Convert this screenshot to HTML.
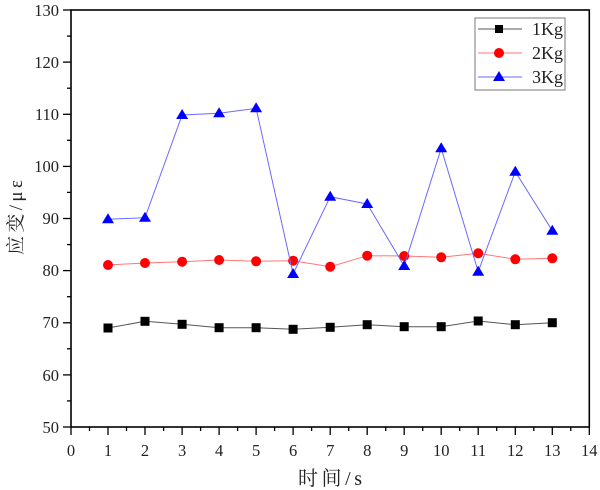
<!DOCTYPE html>
<html><head><meta charset="utf-8"><style>
html,body{margin:0;padding:0;background:#fff;}
svg{display:block;}
text{font-family:"Liberation Serif","Noto Serif CJK SC",serif;fill:#222;}
</style></head><body>
<svg width="600" height="490" viewBox="0 0 600 490" xmlns="http://www.w3.org/2000/svg">
<rect width="600" height="490" fill="#fff"/>
<!-- frame -->
<rect x="71" y="10" width="518.3" height="417" fill="none" stroke="#000" stroke-width="1.6"/>
<!-- y ticks -->
<g stroke="#000" stroke-width="1.3">
<line x1="63" y1="10" x2="71" y2="10"/><line x1="67" y1="36.1" x2="71" y2="36.1"/>
<line x1="63" y1="62.1" x2="71" y2="62.1"/><line x1="67" y1="88.2" x2="71" y2="88.2"/>
<line x1="63" y1="114.3" x2="71" y2="114.3"/><line x1="67" y1="140.3" x2="71" y2="140.3"/>
<line x1="63" y1="166.4" x2="71" y2="166.4"/><line x1="67" y1="192.4" x2="71" y2="192.4"/>
<line x1="63" y1="218.5" x2="71" y2="218.5"/><line x1="67" y1="244.6" x2="71" y2="244.6"/>
<line x1="63" y1="270.6" x2="71" y2="270.6"/><line x1="67" y1="296.7" x2="71" y2="296.7"/>
<line x1="63" y1="322.8" x2="71" y2="322.8"/><line x1="67" y1="348.8" x2="71" y2="348.8"/>
<line x1="63" y1="374.9" x2="71" y2="374.9"/><line x1="67" y1="400.9" x2="71" y2="400.9"/>
<line x1="63" y1="427" x2="71" y2="427"/>
</g>
<g font-size="16.5" text-anchor="end">
<text x="59" y="16">130</text><text x="59" y="68">120</text><text x="59" y="120">110</text>
<text x="59" y="172">100</text><text x="59" y="224">90</text><text x="59" y="276">80</text>
<text x="59" y="328">70</text><text x="59" y="381">60</text><text x="59" y="433">50</text>
</g>
<!-- x ticks -->
<g stroke="#000" stroke-width="1.3">
<line x1="71" y1="427" x2="71" y2="435"/><line x1="89.5" y1="427" x2="89.5" y2="431"/>
<line x1="108" y1="427" x2="108" y2="435"/><line x1="126.5" y1="427" x2="126.5" y2="431"/>
<line x1="145" y1="427" x2="145" y2="435"/><line x1="163.6" y1="427" x2="163.6" y2="431"/>
<line x1="182.1" y1="427" x2="182.1" y2="435"/><line x1="200.6" y1="427" x2="200.6" y2="431"/>
<line x1="219.1" y1="427" x2="219.1" y2="435"/><line x1="237.6" y1="427" x2="237.6" y2="431"/>
<line x1="256.1" y1="427" x2="256.1" y2="435"/><line x1="274.6" y1="427" x2="274.6" y2="431"/>
<line x1="293.1" y1="427" x2="293.1" y2="435"/><line x1="311.6" y1="427" x2="311.6" y2="431"/>
<line x1="330.2" y1="427" x2="330.2" y2="435"/><line x1="348.7" y1="427" x2="348.7" y2="431"/>
<line x1="367.2" y1="427" x2="367.2" y2="435"/><line x1="385.7" y1="427" x2="385.7" y2="431"/>
<line x1="404.2" y1="427" x2="404.2" y2="435"/><line x1="422.7" y1="427" x2="422.7" y2="431"/>
<line x1="441.2" y1="427" x2="441.2" y2="435"/><line x1="459.7" y1="427" x2="459.7" y2="431"/>
<line x1="478.2" y1="427" x2="478.2" y2="435"/><line x1="496.7" y1="427" x2="496.7" y2="431"/>
<line x1="515.3" y1="427" x2="515.3" y2="435"/><line x1="533.8" y1="427" x2="533.8" y2="431"/>
<line x1="552.3" y1="427" x2="552.3" y2="435"/><line x1="570.8" y1="427" x2="570.8" y2="431"/>
<line x1="589.3" y1="427" x2="589.3" y2="435"/>
</g>
<g font-size="16.5" text-anchor="middle">
<text x="71" y="456">0</text><text x="108" y="456">1</text><text x="145" y="456">2</text>
<text x="182.1" y="456">3</text><text x="219.1" y="456">4</text><text x="256.1" y="456">5</text>
<text x="293.1" y="456">6</text><text x="330.2" y="456">7</text><text x="367.2" y="456">8</text>
<text x="404.2" y="456">9</text><text x="441.2" y="456">10</text><text x="478.2" y="456">11</text>
<text x="515.3" y="456">12</text><text x="552.3" y="456">13</text><text x="589.3" y="456">14</text>
</g>
<!-- axis titles -->
<text x="298" y="485" font-size="20" textLength="64" lengthAdjust="spacing">时间/s</text>
<text transform="translate(22,255) rotate(-90)" font-size="19" textLength="75" lengthAdjust="spacing">应变/με</text>
<!-- series 1Kg -->
<polyline fill="none" stroke="#555" stroke-width="1" points="108,328 145,321.3 182.1,324.3 219.1,327.7 256.1,327.7 293.1,329.3 330.2,327.3 367.2,324.7 404.2,326.7 441.2,326.7 478.2,321 515.3,324.7 552.3,322.7"/>
<g fill="#000">
<rect x="103.5" y="323.5" width="9" height="9"/><rect x="140.5" y="316.8" width="9" height="9"/>
<rect x="177.6" y="319.8" width="9" height="9"/><rect x="214.6" y="323.2" width="9" height="9"/>
<rect x="251.6" y="323.2" width="9" height="9"/><rect x="288.6" y="324.8" width="9" height="9"/>
<rect x="325.7" y="322.8" width="9" height="9"/><rect x="362.7" y="320.2" width="9" height="9"/>
<rect x="399.7" y="322.2" width="9" height="9"/><rect x="436.7" y="322.2" width="9" height="9"/>
<rect x="473.7" y="316.5" width="9" height="9"/><rect x="510.8" y="320.2" width="9" height="9"/>
<rect x="547.8" y="318.2" width="9" height="9"/>
</g>
<!-- series 2Kg -->
<polyline fill="none" stroke="#f77" stroke-width="1" points="108,265 145,263 182.1,261.7 219.1,260 256.1,261.3 293.1,260.7 330.2,266.7 367.2,255.7 404.2,256 441.2,257.3 478.2,253.3 515.3,259.3 552.3,258.3"/>
<g fill="#f00">
<circle cx="108" cy="265" r="5"/><circle cx="145" cy="263" r="5"/><circle cx="182.1" cy="261.7" r="5"/>
<circle cx="219.1" cy="260" r="5"/><circle cx="256.1" cy="261.3" r="5"/><circle cx="293.1" cy="260.7" r="5"/>
<circle cx="330.2" cy="266.7" r="5"/><circle cx="367.2" cy="255.7" r="5"/><circle cx="404.2" cy="256" r="5"/>
<circle cx="441.2" cy="257.3" r="5"/><circle cx="478.2" cy="253.3" r="5"/><circle cx="515.3" cy="259.3" r="5"/>
<circle cx="552.3" cy="258.3" r="5"/>
</g>
<!-- series 3Kg -->
<polyline fill="none" stroke="#6a6aff" stroke-width="1" points="108,219.3 145,217.7 182.1,115 219.1,113.3 256.1,108.3 293.1,274 330.2,196.7 367.2,204 404.2,266 441.2,148.3 478.2,271.7 515.3,171.7 552.3,230.7"/>
<g fill="#00f">
<polygon points="108,213.3 114,223.3 102,223.3"/>
<polygon points="145,211.7 151,221.7 139,221.7"/>
<polygon points="182.1,109 188.1,119 176.1,119"/>
<polygon points="219.1,107.3 225.1,117.3 213.1,117.3"/>
<polygon points="256.1,102.3 262.1,112.3 250.1,112.3"/>
<polygon points="293.1,268 299.1,278 287.1,278"/>
<polygon points="330.2,190.7 336.2,200.7 324.2,200.7"/>
<polygon points="367.2,198 373.2,208 361.2,208"/>
<polygon points="404.2,260 410.2,270 398.2,270"/>
<polygon points="441.2,142.3 447.2,152.3 435.2,152.3"/>
<polygon points="478.2,265.7 484.2,275.7 472.2,275.7"/>
<polygon points="515.3,165.7 521.3,175.7 509.3,175.7"/>
<polygon points="552.3,224.7 558.3,234.7 546.3,234.7"/>
</g>
<!-- legend -->
<rect x="475" y="18" width="90" height="72" fill="#fff" stroke="#777" stroke-width="1"/>
<line x1="478" y1="29" x2="522" y2="29" stroke="#555" stroke-width="1"/>
<rect x="495" y="25" width="8" height="8" fill="#000"/>
<line x1="478" y1="53" x2="522" y2="53" stroke="#f77" stroke-width="1"/>
<circle cx="499" cy="53" r="5" fill="#f00"/>
<line x1="478" y1="77" x2="522" y2="77" stroke="#6a6aff" stroke-width="1"/>
<polygon points="499,71 505,81 493,81" fill="#00f"/>
<g font-size="18">
<text x="532" y="35">1Kg</text><text x="532" y="59">2Kg</text><text x="532" y="83">3Kg</text>
</g>
</svg>
</body></html>
